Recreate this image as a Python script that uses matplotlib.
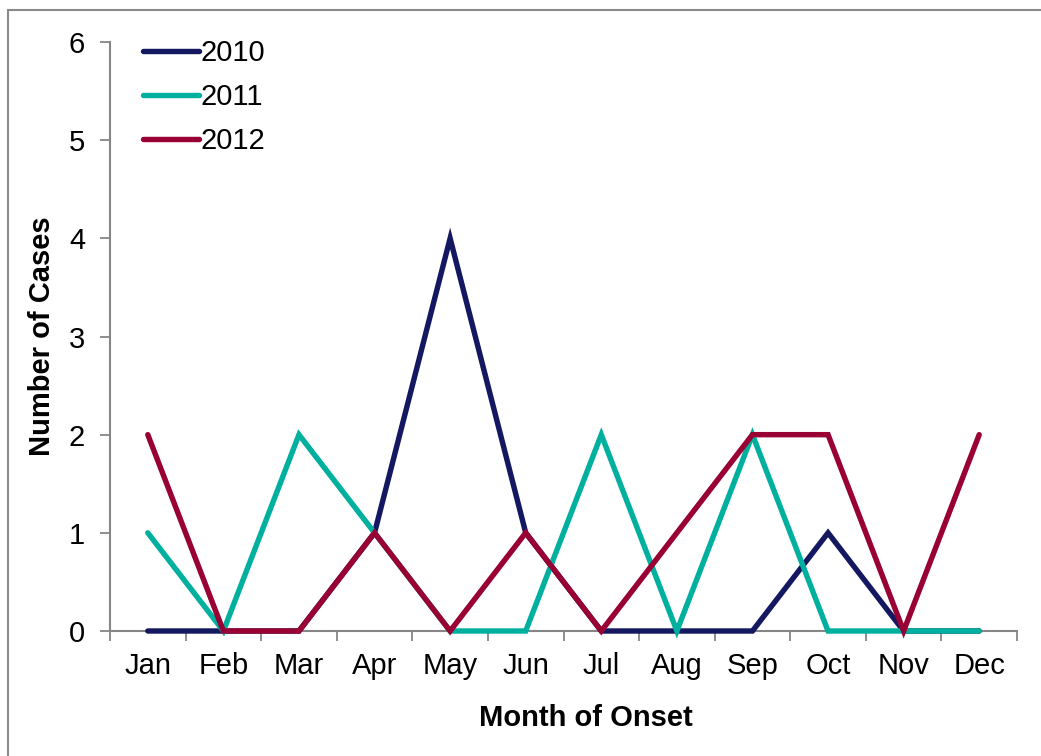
import matplotlib
matplotlib.use("Agg")
import matplotlib.pyplot as plt
import matplotlib.patches as patches

months = ["Jan", "Feb", "Mar", "Apr", "May", "Jun",
          "Jul", "Aug", "Sep", "Oct", "Nov", "Dec"]
cases_2010 = [0, 0, 0, 1, 4, 1, 0, 0, 0, 1, 0, 0]
cases_2011 = [1, 0, 2, 1, 0, 0, 2, 0, 2, 0, 0, 0]
cases_2012 = [2, 0, 0, 1, 0, 1, 0, 1, 2, 2, 0, 2]
series_names = ["2010", "2011", "2012"]
series_colors = ["#131860", "#00B09E", "#990033"]

plt.rcParams['font.family'] = ['Liberation Sans', 'DejaVu Sans']

fig = plt.figure(figsize=(10.41, 7.56), dpi=100)
ax = fig.add_axes([110 / 1041, 1 - 631 / 756, (1017 - 110) / 1041, (631 - 42) / 756])

# outer chart border (gray), like the spreadsheet chart frame
frame = patches.Rectangle((8 / 1041, -0.1), 1.2, 1.1 - 10 / 756, transform=fig.transFigure,
                          fill=False, ec="#8a8a8a", lw=1.5, clip_on=False)
fig.patches.append(frame)

x = list(range(1, len(months) + 1))
for vals, name, col in zip([cases_2010, cases_2011, cases_2012], series_names, series_colors):
    ax.plot(x, vals, color=col, lw=3.9, label=name, solid_capstyle='round',
            solid_joinstyle='miter', clip_on=False, zorder=3)

ax.set_xlim(0.5, 12.5)
ax.set_ylim(0, 6)
ax.set_yticks(range(0, 7))
ax.set_xticks([i + 0.5 for i in range(0, 13)], minor=False)
ax.set_xticklabels([])
ax.set_xticks(x, minor=True)
ax.set_xticklabels(months, minor=True)
ax.tick_params(axis='x', which='minor', length=0, pad=15, labelsize=21)
ax.tick_params(axis='x', which='major', length=7, color="#868686", width=1.3)
ax.tick_params(axis='y', length=7, color="#868686", width=1.3, labelsize=21, pad=11)

for side in ['top', 'right']:
    ax.spines[side].set_visible(False)
for side in ['left', 'bottom']:
    ax.spines[side].set_color("#868686")
    ax.spines[side].set_linewidth(1.5)

ax.set_xlabel("Month of Onset", fontsize=21, fontweight='bold')
ax.xaxis.set_label_coords((586 - 110) / (1017 - 110), -(718 - 631) / (631 - 42))
ax.xaxis.label.set_va('center')
ax.set_ylabel("Number of Cases", fontsize=21, fontweight='bold')
ax.yaxis.set_label_coords(-(110 - 42) / (1017 - 110), 0.5)
ax.yaxis.label.set_va('center')

ax.legend(loc='upper left', bbox_to_anchor=(0.007, 1.05), frameon=False, fontsize=21,
          handlelength=1.95, handletextpad=0.05, labelspacing=0.55)

fig.savefig("out.png", dpi=100)
